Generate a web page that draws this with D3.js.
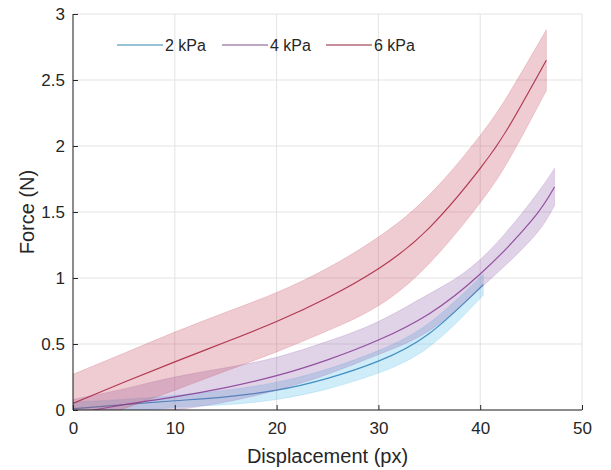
<!DOCTYPE html>
<html>
<head>
<meta charset="utf-8">
<script src="https://cdn.jsdelivr.net/npm/d3@7"></script>
<style>
  body { margin: 0; background: #fff; }
  text { font-family: "Liberation Sans", Arial, sans-serif; fill: #262626; }
</style>
</head>
<body>
<div id="chart"></div>
<script>
// legend labels
const seriesNames = ['2 kPa', '4 kPa', '6 kPa'];

// 2 kPa
const disp2 = [0, 5, 10, 15, 20, 25, 30, 35, 40.3];
const mean2 = [0.01, 0.04, 0.07, 0.10, 0.15, 0.24, 0.37, 0.58, 0.95];
const upper2 = [0.06, 0.08, 0.11, 0.15, 0.21, 0.31, 0.45, 0.66, 1.03];
const lower2 = [-0.05, -0.02, 0.02, 0.04, 0.08, 0.16, 0.28, 0.48, 0.87];

// 4 kPa
const disp4 = [0, 5, 10, 15, 20, 25, 30, 35, 40, 45, 47.3];
const mean4 = [-0.03, 0.04, 0.10, 0.17, 0.26, 0.38, 0.53, 0.73, 1.03, 1.43, 1.69];
const upper4 = [0.08, 0.16, 0.25, 0.32, 0.40, 0.52, 0.67, 0.88, 1.14, 1.58, 1.83];
const lower4 = [-0.12, -0.05, 0.0, 0.06, 0.15, 0.27, 0.42, 0.60, 0.92, 1.29, 1.55];

// 6 kPa
const disp6 = [0, 5, 10, 15, 20, 25, 30, 35, 40, 43, 46.5];
const mean6 = [0.05, 0.21, 0.365, 0.515, 0.67, 0.85, 1.07, 1.38, 1.83, 2.17, 2.65];
const upper6 = [0.27, 0.43, 0.59, 0.74, 0.89, 1.075, 1.31, 1.63, 2.08, 2.42, 2.88];
const lower6 = [-0.13, 0.01, 0.15, 0.295, 0.44, 0.60, 0.79, 1.11, 1.57, 1.92, 2.42];

const xTicks = [0, 10, 20, 30, 40, 50];
const yTicks = [0, 0.5, 1, 1.5, 2, 2.5, 3];

const lineColors = ['#1f78b4', '#7e2f8e', '#a2142f'];
const fillColors = ['#4db8e8', '#8e5aa8', '#c4415a'];
const legendColors = ['#74aecb', '#a98ab0', '#b4687a'];

const series = [
  {disp: disp2, mean: mean2, upper: upper2, lower: lower2},
  {disp: disp4, mean: mean4, upper: upper4, lower: lower4},
  {disp: disp6, mean: mean6, upper: upper6, lower: lower6}
];

const W = 611, H = 470;
const margin = {top: 14, right: 29, bottom: 60, left: 73};
const innerW = W - margin.left - margin.right;
const innerH = H - margin.top - margin.bottom;

const svg = d3.select('#chart').append('svg')
  .attr('width', W).attr('height', H);

const g = svg.append('g')
  .attr('transform', `translate(${margin.left},${margin.top})`);

const x = d3.scaleLinear().domain([0, 50]).range([0, innerW]);
const y = d3.scaleLinear().domain([0, 3]).range([innerH, 0]);

g.append('clipPath').attr('id', 'clip')
  .append('rect').attr('width', innerW).attr('height', innerH);

// grid
g.append('g').selectAll('line').data(xTicks).join('line')
  .attr('x1', d => x(d)).attr('x2', d => x(d))
  .attr('y1', 0).attr('y2', innerH)
  .attr('stroke', '#e3e3e3').attr('stroke-width', 1);
g.append('g').selectAll('line').data(yTicks).join('line')
  .attr('y1', d => y(d)).attr('y2', d => y(d))
  .attr('x1', 0).attr('x2', innerW)
  .attr('stroke', '#e3e3e3').attr('stroke-width', 1);

const plot = g.append('g').attr('clip-path', 'url(#clip)');

series.forEach((s, i) => {
  const pts = s.disp.map((d, k) => ({x: d, m: s.mean[k], lo: s.lower[k], hi: s.upper[k]}));
  plot.append('path')
    .datum(pts)
    .attr('fill', fillColors[i])
    .attr('fill-opacity', 0.27)
    .attr('stroke', fillColors[i])
    .attr('stroke-opacity', 0.25)
    .attr('stroke-width', 0.8)
    .attr('d', d3.area()
      .x(d => x(d.x))
      .y0(d => y(d.lo))
      .y1(d => y(d.hi))
      .curve(d3.curveNatural));
  plot.append('path')
    .datum(pts)
    .attr('fill', 'none')
    .attr('stroke', lineColors[i])
    .attr('stroke-opacity', 0.8)
    .attr('stroke-width', 1.2)
    .attr('d', d3.line()
      .x(d => x(d.x))
      .y(d => y(d.m))
      .curve(d3.curveNatural));
});

// axes
const xAxis = d3.axisBottom(x).tickValues(xTicks).tickSize(-5).tickPadding(12).tickFormat(d3.format('d'));
const yAxis = d3.axisLeft(y).tickValues(yTicks).tickSize(-5).tickPadding(8).tickFormat(d => d);

const xAxisG = g.append('g').attr('transform', `translate(0,${innerH})`).call(xAxis);
const yAxisG = g.append('g').call(yAxis);
[xAxisG, yAxisG].forEach(a => {
  a.select('.domain').attr('stroke', '#262626').attr('stroke-width', 1);
  a.selectAll('.tick line').attr('stroke', '#262626');
  a.selectAll('.tick text').attr('font-size', 17).attr('fill', '#262626')
    .style('font-family', '"Liberation Sans", Arial, sans-serif');
});
xAxisG.select('.domain').attr('d', `M0,0H${innerW}`);
yAxisG.select('.domain').attr('d', `M0,${innerH}V0`);

// axis labels
g.append('text')
  .attr('x', innerW / 2).attr('y', innerH + 53)
  .attr('text-anchor', 'middle').attr('font-size', 20)
  .text('Displacement (px)');
g.append('text')
  .attr('transform', `translate(${-39},${innerH / 2}) rotate(-90)`)
  .attr('text-anchor', 'middle').attr('font-size', 20)
  .text('Force (N)');

// legend
const legendX = [117, 222, 326];
const lg = svg.append('g');
seriesNames.forEach((name, i) => {
  lg.append('line')
    .attr('x1', legendX[i]).attr('x2', legendX[i] + 46)
    .attr('y1', 45).attr('y2', 45)
    .attr('stroke', legendColors[i]).attr('stroke-width', 1.5);
  lg.append('text')
    .attr('x', legendX[i] + 48).attr('y', 51)
    .attr('font-size', 16)
    .text(name);
});
</script>
</body>
</html>
